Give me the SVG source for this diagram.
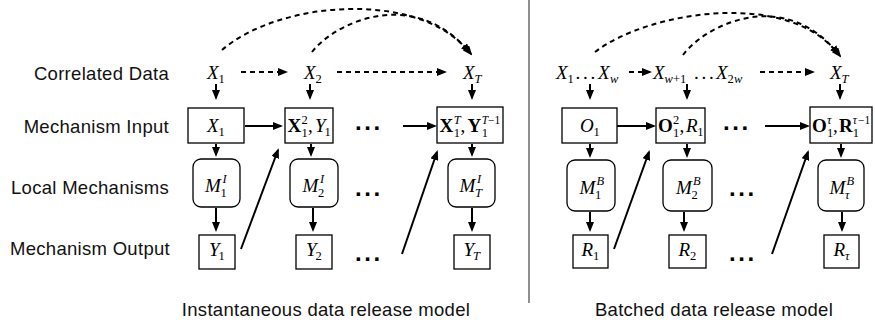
<svg xmlns="http://www.w3.org/2000/svg" width="875" height="326" viewBox="0 0 875 326">
<defs>
<marker id="ah" markerUnits="userSpaceOnUse" markerWidth="10" markerHeight="8" refX="8" refY="4" orient="auto">
<path d="M0,0 L10,4 L0,8 z" fill="#000"/>
</marker>
<style>
.lbl{font-family:"Liberation Sans",Arial,Helvetica,sans-serif;font-size:18.5px;letter-spacing:0.3px;fill:#111}
.m{font-family:"Liberation Serif","Times New Roman",serif;font-size:19px;font-style:italic;fill:#000}
.mb{font-family:"Liberation Serif","Times New Roman",serif;font-size:19px;font-weight:bold;fill:#000}
.mu{font-family:"Liberation Serif","Times New Roman",serif;font-size:19px;fill:#000}
.el{font-family:"Liberation Serif","Times New Roman",serif;font-size:19px;letter-spacing:2.8px;fill:#000}
.s{font-family:"Liberation Serif","Times New Roman",serif;font-size:12.5px;font-style:italic;fill:#000}
.sn{font-family:"Liberation Serif","Times New Roman",serif;font-size:12.5px;fill:#000}
.ss{font-size:11.5px}
.dots{font-family:"Liberation Sans",Arial,sans-serif;font-size:24px;font-weight:bold;letter-spacing:2.6px;fill:#000}
.box{fill:#fff;stroke:#000;stroke-width:1.3}
.ar{fill:none;stroke:#000;stroke-width:2;marker-end:url(#ah)}
.da{fill:none;stroke:#000;stroke-width:2;stroke-dasharray:5 4;marker-end:url(#ah)}
</style>
</defs>
<rect width="875" height="326" fill="#fff"/>

<!-- row labels -->
<g id="labels">
<text class="lbl" x="169" y="80" text-anchor="end">Correlated Data</text>
<text class="lbl" x="169" y="133" text-anchor="end">Mechanism Input</text>
<text class="lbl" x="169" y="194" text-anchor="end">Local Mechanisms</text>
<text class="lbl" x="170" y="255" text-anchor="end">Mechanism Output</text>
<text class="lbl" x="326" y="316" text-anchor="middle">Instantaneous data release model</text>
<text class="lbl" x="714" y="316" text-anchor="middle">Batched data release model</text>
</g>

<line x1="529" y1="0" x2="529" y2="303" stroke="#444" stroke-width="1.2"/>

<!-- connectors -->
<g id="connectors">
<!-- left: curves -->
<path class="da" d="M222,50 C280,0 420,-10 469,52"/>
<path class="da" d="M312,52 C335,22 415,-15 471,54"/>
<!-- left: correlated row -->
<path class="da" d="M241,72 H286"/>
<path class="da" d="M337,72 H445"/>
<!-- left: verticals -->
<path class="ar" d="M216,84 V98"/>
<path class="ar" d="M310,84 V98"/>
<path class="ar" d="M472,84 V98"/>
<path class="ar" d="M216,144 V155"/>
<path class="ar" d="M311,144 V155"/>
<path class="ar" d="M472,144 V155"/>
<path class="ar" d="M216,208 V230"/>
<path class="ar" d="M313,208 V230"/>
<path class="ar" d="M472,208 V230"/>
<!-- left: horizontals -->
<path class="ar" d="M245,126 H281"/>
<path class="ar" d="M403,126 H435"/>
<!-- left: diagonals -->
<path class="ar" d="M241,249 L278,150"/>
<path class="ar" d="M402,254 L437,152"/>

<!-- right: curves -->
<path class="da" d="M595,52 C650,10 790,-10 838,54"/>
<path class="da" d="M683,55 C705,25 785,-15 840,56"/>
<!-- right: correlated row -->
<path class="da" d="M629,72 H650"/>
<path class="da" d="M760,72 H813"/>
<!-- right: verticals -->
<path class="ar" d="M590,84 V98"/>
<path class="ar" d="M687,84 V98"/>
<path class="ar" d="M840,84 V98"/>
<path class="ar" d="M590,144 V156"/>
<path class="ar" d="M687,144 V156"/>
<path class="ar" d="M841,144 V156"/>
<path class="ar" d="M590,212 V230"/>
<path class="ar" d="M684,212 V230"/>
<path class="ar" d="M842,212 V230"/>
<!-- right: horizontals -->
<path class="ar" d="M617,126 H654"/>
<path class="ar" d="M765,126 H808"/>
<!-- right: diagonals -->
<path class="ar" d="M614,249 L649,152"/>
<path class="ar" d="M772,254 L808,152"/>
</g>

<!-- LEFT PANEL NODES -->
<g id="L-data-1"><text class="m" x="207" y="79">X</text><text class="sn" x="218.6" y="83">1</text></g>
<g id="L-data-2"><text class="m" x="304" y="79">X</text><text class="sn" x="315.6" y="83">2</text></g>
<g id="L-data-T"><text class="m" x="463" y="79">X</text><text class="s" x="474.6" y="83">T</text></g>

<g id="L-in-1"><rect class="box" x="188" y="108" width="56" height="35"/>
<text class="m" x="207" y="132">X</text><text class="sn" x="218.6" y="136">1</text></g>
<g id="L-in-2"><rect class="box" x="285" y="108" width="48" height="35"/>
<text class="mb" x="287.5" y="132">X</text><text class="sn" x="301.5" y="124">2</text><text class="sn" x="301.5" y="137">1</text>
<text class="mu" x="308" y="132">,</text><text class="m" x="315" y="132">Y</text><text class="sn" x="324.5" y="136">1</text></g>
<g id="L-in-T"><rect class="box" x="437" y="107" width="66" height="36"/>
<text class="mb" x="439.5" y="132">X</text><text class="s" x="453.8" y="124">T</text><text class="sn" x="453.8" y="137">1</text>
<text class="mu" x="460.5" y="132">,</text><text class="mb" x="467.5" y="132">Y</text>
<text class="s ss" x="481.8" y="124">T</text><text class="sn ss" x="488" y="124">−1</text><text class="sn" x="481.8" y="137">1</text></g>

<g id="L-mech-1"><rect class="box" x="193" y="159" width="47" height="48" rx="8"/>
<text class="m" x="205" y="192">M</text><text class="s" x="222.5" y="183">I</text><text class="sn" x="220.5" y="197">1</text></g>
<g id="L-mech-2"><rect class="box" x="290" y="159" width="48" height="48" rx="8"/>
<text class="m" x="302.5" y="192">M</text><text class="s" x="320" y="183">I</text><text class="sn" x="318" y="197">2</text></g>
<g id="L-mech-T"><rect class="box" x="448" y="159" width="47" height="48" rx="8"/>
<text class="m" x="459.5" y="192">M</text><text class="s" x="477" y="183">I</text><text class="s" x="475" y="197">T</text></g>

<g id="L-out-1"><rect class="box" x="199" y="235" width="36" height="34"/>
<text class="m" x="209" y="256">Y</text><text class="sn" x="218.6" y="260">1</text></g>
<g id="L-out-2"><rect class="box" x="296" y="235" width="36" height="34"/>
<text class="m" x="306" y="256">Y</text><text class="sn" x="315.6" y="260">2</text></g>
<g id="L-out-T"><rect class="box" x="454" y="235" width="36" height="34"/>
<text class="m" x="463.5" y="256">Y</text><text class="s" x="473" y="260">T</text></g>

<g id="L-dots">
<text class="dots" x="355" y="130">...</text>
<text class="dots" x="355" y="196">...</text>
<text class="dots" x="355" y="261">...</text>
</g>

<!-- RIGHT PANEL NODES -->
<g id="R-data-1"><text class="m" x="556" y="79">X</text><text class="sn" x="567.6" y="83">1</text>
<text class="el" x="575.5" y="79">...</text>
<text class="m" x="598" y="79">X</text><text class="s" x="610" y="83">w</text></g>
<g id="R-data-2"><text class="m" x="653" y="79">X</text><text class="s" x="664.6" y="83">w</text><text class="sn" x="673" y="83">+1</text>
<text class="el" x="694" y="79">...</text>
<text class="m" x="716" y="79">X</text><text class="sn" x="727.6" y="83">2</text><text class="s" x="733.9" y="83">w</text></g>
<g id="R-data-T"><text class="m" x="830" y="79">X</text><text class="s" x="841.6" y="83">T</text></g>

<g id="R-in-1"><rect class="box" x="562" y="108" width="55" height="35"/>
<text class="m" x="580" y="132">O</text><text class="sn" x="593.5" y="136">1</text></g>
<g id="R-in-2"><rect class="box" x="656" y="108" width="49" height="35"/>
<text class="mb" x="658" y="132">O</text><text class="sn" x="673" y="124">2</text><text class="sn" x="673" y="137">1</text>
<text class="mu" x="679.5" y="132">,</text><text class="m" x="686" y="132">R</text><text class="sn" x="697.3" y="136">1</text></g>
<g id="R-in-T"><rect class="box" x="810" y="107" width="62" height="36"/>
<text class="mb" x="812" y="132">O</text><text class="s" x="827" y="124">τ</text><text class="sn" x="827" y="137">1</text>
<text class="mu" x="833" y="132">,</text><text class="mb" x="839" y="132">R</text>
<text class="s ss" x="852.8" y="124">τ</text><text class="sn ss" x="858" y="124">−1</text><text class="sn" x="852.8" y="137">1</text></g>

<g id="R-mech-1"><rect class="box" x="567" y="160" width="48" height="51" rx="8"/>
<text class="m" x="579.5" y="194">M</text><text class="s" x="596.5" y="185">B</text><text class="sn" x="595" y="199">1</text></g>
<g id="R-mech-2"><rect class="box" x="663" y="160" width="49" height="51" rx="8"/>
<text class="m" x="676" y="194">M</text><text class="s" x="693" y="185">B</text><text class="sn" x="691.5" y="199">2</text></g>
<g id="R-mech-T"><rect class="box" x="818" y="160" width="46" height="51" rx="8"/>
<text class="m" x="829.5" y="194">M</text><text class="s" x="846.5" y="185">B</text><text class="s" x="845" y="199">τ</text></g>

<g id="R-out-1"><rect class="box" x="573" y="235" width="35" height="33"/>
<text class="m" x="581.5" y="256">R</text><text class="sn" x="593" y="260">1</text></g>
<g id="R-out-2"><rect class="box" x="669" y="235" width="37" height="33"/>
<text class="m" x="678.5" y="256">R</text><text class="sn" x="690" y="260">2</text></g>
<g id="R-out-T"><rect class="box" x="824" y="235" width="35" height="33"/>
<text class="m" x="833.5" y="256">R</text><text class="s" x="845" y="260">τ</text></g>

<g id="R-dots">
<text class="dots" x="723" y="130">...</text>
<text class="dots" x="729" y="196">...</text>
<text class="dots" x="729" y="261">...</text>
</g>
</svg>
